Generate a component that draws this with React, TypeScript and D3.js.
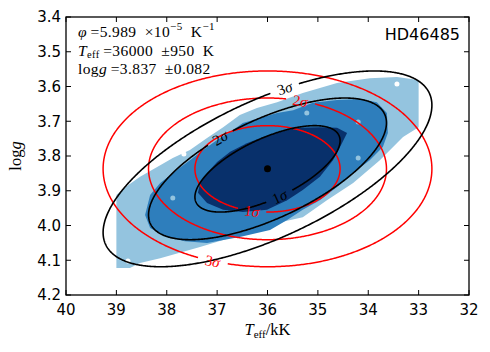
import React from 'react';
import * as d3 from 'd3';

const width = 490;
const height = 352;
const margin = { top: 17, right: 21, bottom: 57, left: 66 };

const serif = "'Liberation Serif', 'DejaVu Serif', serif";
const sans = "'DejaVu Sans', sans-serif";

const teffTicks = [40, 39, 38, 37, 36, 35, 34, 33, 32];
const loggTicks = [3.4, 3.5, 3.6, 3.7, 3.8, 3.9, 4.0, 4.1, 4.2];

// best fit and errors
const teffBest = 36.0;
const teffSigma = 0.95;
const loggBest = 3.837;
const loggSigma = 0.082;
const correlation = 0.65;

// 1, 2, 3 sigma levels for two parameters
const sigmaNames = ['1', '2', '3'];
const deltaChi2 = [2.3, 6.18, 11.8];
const redLabelAt = [[36.31, 3.958], [35.355, 3.647], [37.08, 4.102]];
const blackLabelAt = [[35.77, 3.915], [36.903, 3.76], [35.63, 3.616]];

// filled sample contours, [Teff kK, logg]
const outerRegion = [
  [39.0, 3.912], [38.79, 3.886], [38.53, 3.86], [38.19, 3.832], [37.88, 3.806],
  [37.54, 3.783], [37.2, 3.748], [36.88, 3.717], [36.55, 3.682], [36.21, 3.662],
  [35.81, 3.645], [35.3, 3.619], [34.62, 3.59], [33.97, 3.576], [33.43, 3.573],
  [33.0, 3.581], [33.0, 3.717], [33.31, 3.745], [33.77, 3.812], [34.3, 3.878],
  [34.82, 3.927], [35.3, 3.976], [35.81, 3.993], [36.55, 4.027], [37.34, 4.062],
  [38.13, 4.094], [38.53, 4.108], [38.73, 4.122], [39.0, 4.122],
];
const middleRegion = [
  [38.43, 3.97], [38.33, 3.912], [38.13, 3.878], [37.8, 3.84], [37.54, 3.812],
  [37.28, 3.783], [37.0, 3.754], [36.74, 3.731], [36.49, 3.705], [36.15, 3.691],
  [35.81, 3.676], [35.49, 3.668], [35.1, 3.647], [34.62, 3.639], [34.16, 3.636],
  [33.83, 3.645], [33.63, 3.676], [33.61, 3.734], [33.71, 3.774], [33.97, 3.812],
  [34.3, 3.849], [34.62, 3.889], [34.96, 3.927], [35.3, 3.955], [35.61, 3.984],
  [35.95, 4.013], [36.55, 4.033], [37.2, 4.05], [37.64, 4.045], [38.0, 4.033],
  [38.33, 4.007],
];
const innerRegion = [
  [37.38, 3.906], [37.2, 3.935], [36.88, 3.955], [36.49, 3.961], [36.01, 3.955],
  [35.61, 3.927], [35.3, 3.898], [34.96, 3.86], [34.7, 3.812], [34.56, 3.774],
  [34.42, 3.734], [34.62, 3.719], [34.96, 3.717], [35.41, 3.719], [35.75, 3.731],
  [36.09, 3.745], [36.41, 3.763], [36.74, 3.788], [37.0, 3.817], [37.2, 3.849],
  [37.34, 3.878],
];
const outerHoles = [[37.66, 3.794], [38.77, 4.102], [33.43, 3.593]];
const middleHoles = [[35.22, 3.676], [34.2, 3.702], [37.88, 3.921], [34.2, 3.806]];

const blues = ['#94c4df', '#2e7ebc', '#08306b'];

export default function App() {
  const x = d3.scaleLinear().domain([40, 32]).range([margin.left, width - margin.right]);
  const y = d3.scaleLinear().domain([3.4, 4.2]).range([margin.top, height - margin.bottom]);
  const x0 = x.range()[0], x1 = x.range()[1];
  const y0 = y.range()[0], y1 = y.range()[1];

  const area = d3.line<number[]>().x(d => x(d[0])).y(d => y(d[1])).curve(d3.curveLinearClosed);

  const ellipse = (level: number, rho: number, at: number[]) => {
    const k = Math.sqrt(level);
    const n = 720;
    const pts = d3.range(n + 1).map(i => {
      const t = (i / n) * 2 * Math.PI;
      const te = teffBest + k * teffSigma * Math.cos(t);
      const lg = loggBest + k * loggSigma * (rho * Math.cos(t) + Math.sqrt(1 - rho * rho) * Math.sin(t));
      return [x(te), y(lg)];
    });
    const lx = x(at[0]), ly = y(at[1]);
    let best = 0;
    let bd = Infinity;
    pts.forEach((p, i) => {
      const d = Math.hypot(p[0] - lx, p[1] - ly);
      if (d < bd) { bd = d; best = i; }
    });
    const c = pts[best];
    const nx = pts[(best + 1) % n], pv = pts[(best + n - 1) % n];
    let ang = (Math.atan2(nx[1] - pv[1], nx[0] - pv[0]) * 180) / Math.PI;
    if (ang > 90) ang -= 180;
    if (ang < -90) ang += 180;
    const path = d3.line<number[]>().defined(p => Math.hypot(p[0] - c[0], p[1] - c[1]) > 14)(pts);
    return { path, c, ang };
  };

  const red = deltaChi2.map((l, i) => ellipse(l, 0, redLabelAt[i]));
  const black = deltaChi2.map((l, i) => ellipse(l, correlation, blackLabelAt[i]));

  const label = (e: any, name: string, color: string, key: string) => (
    <text key={key} transform={`translate(${e.c[0]},${e.c[1]}) rotate(${e.ang})`} textAnchor="middle"
      dy="0.35em" fontFamily={serif} fontSize={15} fill={color}>
      <tspan>{name}</tspan><tspan fontStyle="italic">σ</tspan>
    </text>
  );

  return (
    <svg width={width} height={height} style={{ position: 'absolute', left: 0, top: 0, background: 'white' }}>
      <defs>
        <clipPath id="plot"><rect x={x0} y={y0} width={x1 - x0} height={y1 - y0} /></clipPath>
      </defs>
      <g clipPath="url(#plot)">
        <path d={area(outerRegion) || ''} fill={blues[0]} />
        {outerHoles.map((d, i) => <circle key={'oh' + i} cx={x(d[0])} cy={y(d[1])} r={2.5} fill="white" />)}
        <path d={area(middleRegion) || ''} fill={blues[1]} />
        {middleHoles.map((d, i) => <circle key={'mh' + i} cx={x(d[0])} cy={y(d[1])} r={2.5} fill={blues[0]} />)}
        <path d={area(innerRegion) || ''} fill={blues[2]} />
        {red.map((e, i) => <path key={'r' + i} d={e.path || ''} fill="none" stroke="#ff0000" strokeWidth={1.5} />)}
        {black.map((e, i) => <path key={'b' + i} d={e.path || ''} fill="none" stroke="black" strokeWidth={1.6} />)}
        <circle cx={x(teffBest)} cy={y(loggBest)} r={3.5} fill="black" />
      </g>
      {red.map((e, i) => label(e, sigmaNames[i], '#ff0000', 'rl' + i))}
      {black.map((e, i) => label(e, sigmaNames[i], 'black', 'bl' + i))}

      {/* ticks inside on all sides */}
      {teffTicks.map(t => (
        <g key={'xt' + t}>
          <line x1={x(t)} x2={x(t)} y1={y1} y2={y1 - 5} stroke="black" />
          <line x1={x(t)} x2={x(t)} y1={y0} y2={y0 + 5} stroke="black" />
          <text x={x(t)} y={y1 + 20} textAnchor="middle" fontFamily={sans} fontSize={15}>{t}</text>
        </g>
      ))}
      {loggTicks.map(t => (
        <g key={'yt' + t}>
          <line x1={x0} x2={x0 + 5} y1={y(t)} y2={y(t)} stroke="black" />
          <line x1={x1} x2={x1 - 5} y1={y(t)} y2={y(t)} stroke="black" />
          <text x={x0 - 5} y={y(t) + 5.4} textAnchor="end" fontFamily={sans} fontSize={15}>{t.toFixed(1)}</text>
        </g>
      ))}
      <rect x={x0} y={y0} width={x1 - x0} height={y1 - y0} fill="none" stroke="black" strokeWidth={1.3} />

      <text x={x0 + 12} y={37} fontFamily={serif} fontSize={15.5} letterSpacing={0.4}>
        <tspan fontStyle="italic">φ</tspan>
        <tspan>{'\u2009=5.989\u2002×10'}</tspan>
        <tspan dy={-7} fontSize={11}>−5</tspan>
        <tspan dy={7}>{'\u2002K'}</tspan>
        <tspan dy={-7} fontSize={11}>−1</tspan>
      </text>
      <text x={x0 + 12} y={55.5} fontFamily={serif} fontSize={15.5} letterSpacing={0.4}>
        <tspan fontStyle="italic">T</tspan>
        <tspan dy={2} fontSize={10.5}>eff</tspan>
        <tspan dy={-2}>{'\u2009=36000\u2002±950\u2002K'}</tspan>
      </text>
      <text x={x0 + 12} y={74} fontFamily={serif} fontSize={15.5} letterSpacing={0.4}>
        <tspan>log</tspan>
        <tspan fontStyle="italic">g</tspan>
        <tspan>{'\u2009=3.837\u2002±0.082'}</tspan>
      </text>
      <text x={x1 - 9} y={40} textAnchor="end" fontFamily={sans} fontSize={16}>HD46485</text>

      <text x={(x0 + x1) / 2} y={335} textAnchor="middle" fontFamily={serif} fontSize={16.5}>
        <tspan fontStyle="italic">T</tspan>
        <tspan dy={3} fontSize={11}>eff</tspan>
        <tspan dy={-3}>/kK</tspan>
      </text>
      <text transform={`translate(21,${(y0 + y1) / 2}) rotate(-90)`} textAnchor="middle" fontFamily={serif} fontSize={16.5}>
        <tspan>log</tspan>
        <tspan fontStyle="italic">g</tspan>
      </text>
    </svg>
  );
}
